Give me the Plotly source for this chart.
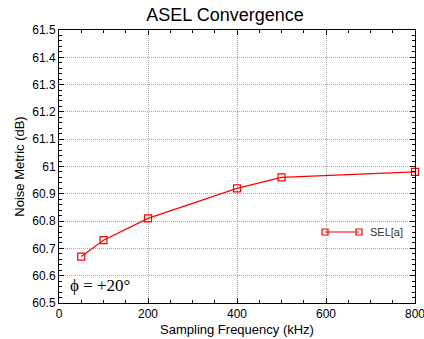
import plotly.graph_objects as go

freq_khz = [50, 100, 200, 400, 500, 800]
sel_a = [60.67, 60.73, 60.81, 60.92, 60.96, 60.98]
series_name = "SEL[a]"
title_text = "ASEL Convergence"
x_title = "Sampling Frequency (kHz)"
y_title = "Noise Metric (dB)"
x_ticks = [0, 200, 400, 600, 800]
y_ticks = [60.5, 60.6, 60.7, 60.8, 60.9, 61.0, 61.1, 61.2, 61.3, 61.4, 61.5]
y_tick_labels = ["60.5", "60.6", "60.7", "60.8", "60.9", "61", "61.1", "61.2", "61.3", "61.4", "61.5"]
note = "ϕ = +20°"

RED = "#ff0000"
fig = go.Figure()
fig.add_trace(go.Scatter(
    x=freq_khz, y=sel_a, mode="lines+markers", name=series_name,
    line=dict(color=RED, width=1.2),
    marker=dict(symbol="square-open", size=7, color=RED, line=dict(width=1.2, color=RED)),
    showlegend=False, cliponaxis=False,
))

axis_common = dict(
    showline=True, linecolor="black", linewidth=1, mirror="allticks",
    ticks="inside", ticklen=5, tickwidth=1, tickcolor="black",
    showgrid=True, gridcolor="#a8a8a8", griddash="1px,1px", gridwidth=1,
    zeroline=False, ticklabeloverflow="allow", automargin=False,
    tickfont=dict(family="Liberation Sans, Arial, sans-serif", size=12, color="black"),
    title_font=dict(family="Liberation Sans, Arial, sans-serif", size=13, color="black"),
)

fig.update_xaxes(
    range=[0, 800], tickvals=x_ticks, title_text=x_title, title_standoff=4,
    minor=dict(ticks="inside", ticklen=3, dtick=50, tickcolor="black", showgrid=False),
    **axis_common,
)
fig.update_yaxes(
    range=[60.5, 61.5], tickvals=y_ticks, ticktext=y_tick_labels, title_text=y_title,
    title_standoff=4,
    minor=dict(ticks="inside", ticklen=3, dtick=0.02, tickcolor="black", showgrid=False),
    **axis_common,
)

# legend box (manual)
lx0, lx1, ly0, ly1 = 315, 406, 208, 246
W, H = 424, 339
ml, mr, mt, mb = 59, 9, 30, 36
pw, ph = W - ml - mr, H - mt - mb

def px(x):
    return (x - ml) / pw

def py(y):
    return 1 - (y - mt) / ph

fig.add_shape(type="rect", xref="paper", yref="paper",
              x0=px(lx0), x1=px(lx1), y0=py(ly1), y1=py(ly0),
              fillcolor="white", line=dict(width=0), layer="between")
ly = py(232)
fig.add_shape(type="line", xref="paper", yref="paper",
              x0=px(325), x1=px(359), y0=ly, y1=ly,
              line=dict(color=RED, width=1.2))
for cx in (325, 359):
    fig.add_shape(type="rect", xref="paper", yref="paper",
                  x0=px(cx - 3), x1=px(cx + 3), y0=py(232 + 3), y1=py(232 - 3),
                  line=dict(color=RED, width=1.2), fillcolor="rgba(0,0,0,0)")
fig.add_annotation(xref="paper", yref="paper", x=px(368), y=ly, text=series_name,
                   showarrow=False, xanchor="left", yanchor="middle",
                   font=dict(family="Liberation Sans, Arial, sans-serif", size=11, color="#333333"))

fig.add_annotation(xref="paper", yref="paper", x=px(68), y=py(285), text=note,
                   showarrow=False, xanchor="left", yanchor="middle",
                   font=dict(family="Liberation Serif, Times New Roman, serif", size=17, color="black"))

fig.update_layout(
    width=W, height=H,
    margin=dict(l=ml, r=mr, t=mt, b=mb, autoexpand=False),
    paper_bgcolor="white", plot_bgcolor="white",
    title=dict(text=title_text, x=225 / W, xanchor="center", y=1 - 15 / H, yanchor="middle",
               font=dict(family="Liberation Sans, Arial, sans-serif", size=18, color="black")),
    showlegend=False,
)

fig.write_html("out.html")
